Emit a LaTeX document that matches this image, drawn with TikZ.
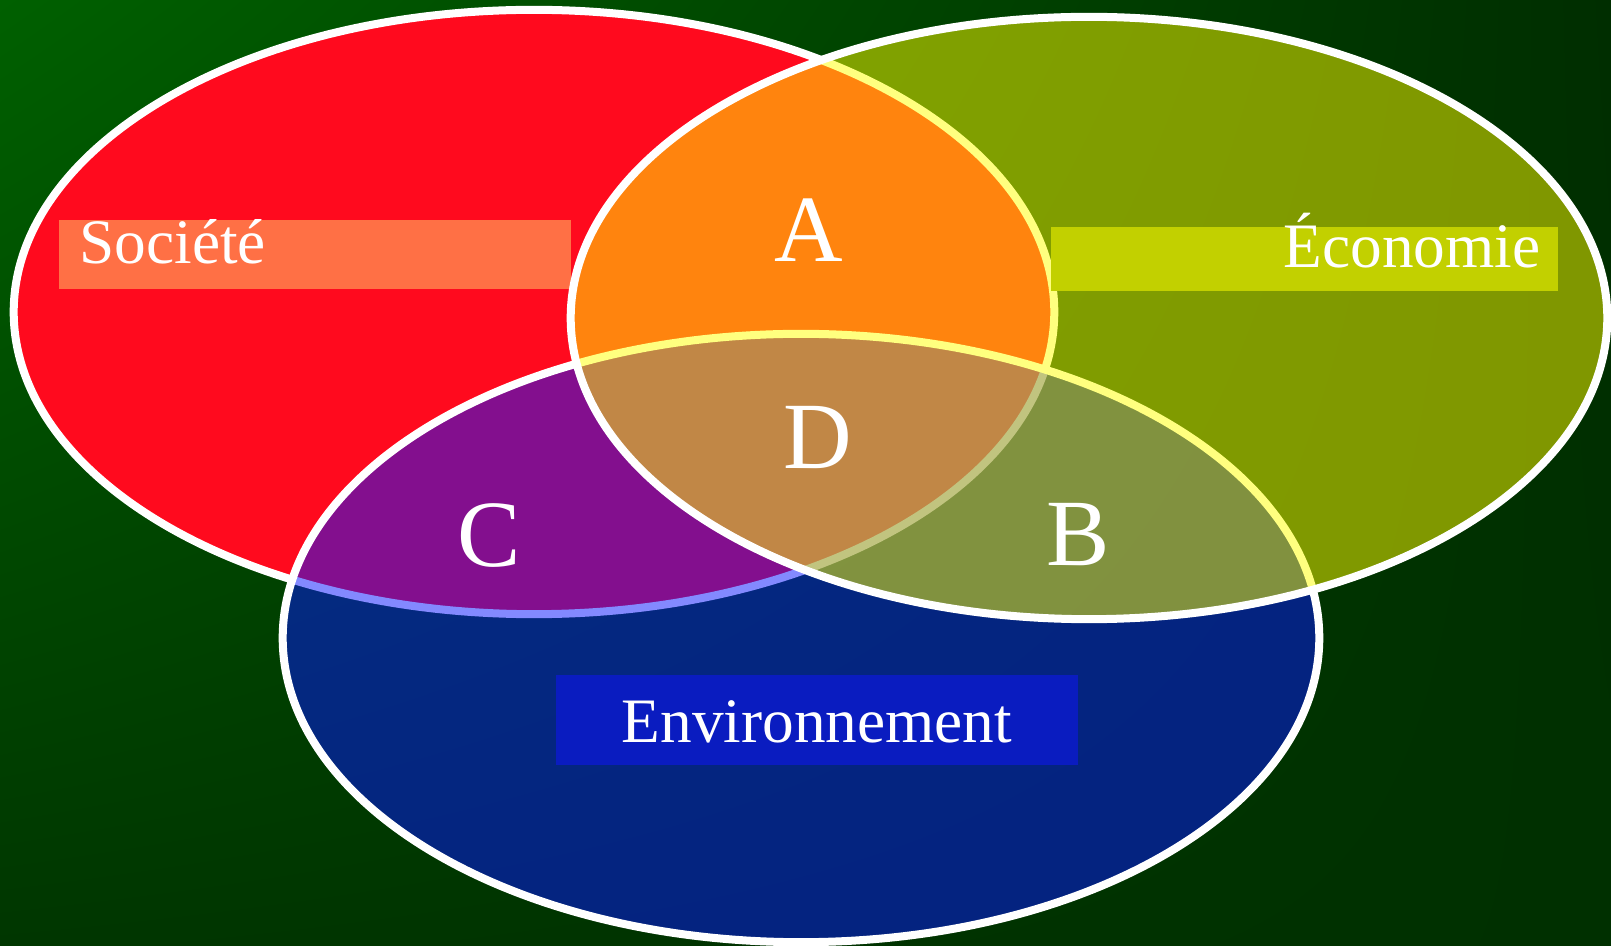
\documentclass[tikz,border=0pt]{standalone}
\usepackage{fontspec}
\setmainfont{Liberation Serif}
\usetikzlibrary{shapes.geometric,shadings}
\usepackage{xcolor}

\definecolor{bgtl}{RGB}{0,96,0}
\definecolor{bgtr}{RGB}{0,46,0}
\definecolor{bgbl}{RGB}{0,54,0}
\definecolor{bgbr}{RGB}{0,48,0}
\definecolor{socred}{RGB}{255,10,30}
\definecolor{envblue}{RGB}{8,20,255}
\definecolor{ecoyel}{RGB}{255,255,0}
\definecolor{socbox}{RGB}{255,112,69}
\definecolor{ecobox}{RGB}{194,208,0}
\definecolor{envbox}{RGB}{10,28,192}

\begin{document}
\begin{tikzpicture}[
                      x = 0.01cm,
                      y = -0.01cm,
             ring/.style = {ellipse, draw=white, line width=0.08cm,
                            inner sep=0pt, outer sep=0pt},
             word/.style = {text=white, inner sep=0pt,
                            font=\fontsize{18pt}{18pt}\selectfont},
           letter/.style = {text=white, inner sep=0pt, anchor=base,
                            font=\fontsize{27pt}{27pt}\selectfont},
                     ]
\useasboundingbox (0,0) rectangle (1611,946);
\shade[upper left=bgtl, upper right=bgtr,
       lower left=bgbl, lower right=bgbr] (0,0) rectangle (1611,946);

% the three circles
\node[ring, fill=socred, minimum width=10.40cm, minimum height=6.04cm] (soc) at (534,312) {};
\fill[socbox] (59,220) rectangle (571,289);
\node[ring, fill=envblue, fill opacity=.5,
      minimum width=10.36cm, minimum height=6.08cm] (env) at (801,638) {};
\fill[envbox] (556,675) rectangle (1078,765);
\node[ring, fill=ecoyel, fill opacity=.5,
      minimum width=10.36cm, minimum height=6.02cm] (eco) at (1089,318) {};
\fill[ecobox] (1051,227) rectangle (1558,291);

% names
\node[word, anchor=base west] (socname) at (79,264) {Société};
\node[word, anchor=base east] (econame) at (1541,268) {Économie};
\node[word, anchor=base] (envname) at (817,743) {Environnement};

% overlaps
\node[letter] (A) at (809,262) {A};
\node[letter] (D) at (818,469) {D};
\node[letter] (C) at (489,567) {C};
\node[letter] (B) at (1078,566) {B};
\end{tikzpicture}
\end{document}
